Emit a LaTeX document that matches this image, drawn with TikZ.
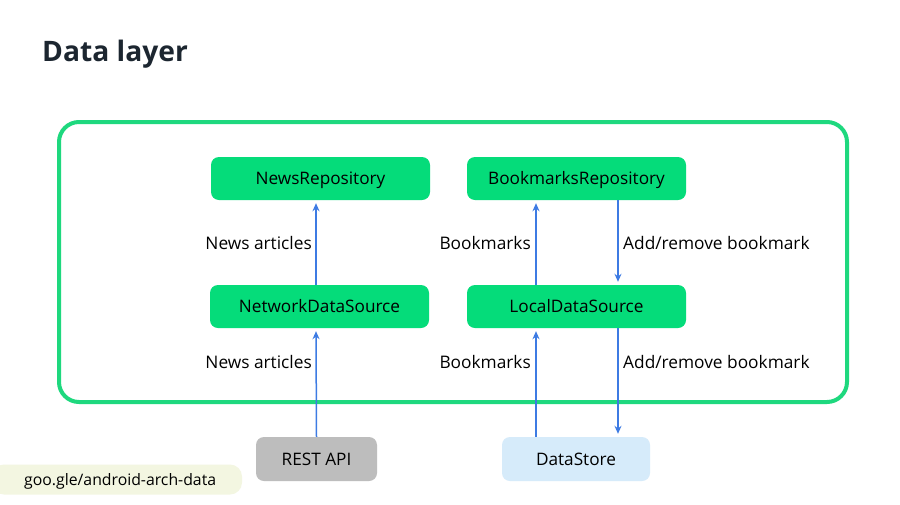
\documentclass[tikz,border=0pt]{standalone}
\usepackage{fontspec}
\setmainfont{Open Sans}
\usetikzlibrary{arrows.meta}
\definecolor{layergreen}{HTML}{1ED87E}
\definecolor{boxgreen}{HTML}{05DC7A}
\definecolor{apigray}{HTML}{BDBDBD}
\definecolor{storeblue}{HTML}{D6EBFA}
\definecolor{linkblue}{HTML}{3D7BE3}
\definecolor{notepale}{HTML}{F3F6E1}
\definecolor{titleink}{HTML}{1C2630}

\begin{document}
\begin{tikzpicture}[x=1pt, y=-1pt,
	box/.style={rounded corners=8pt, minimum width=219pt, minimum height=43pt, inner sep=0pt, text height=12.2pt, text depth=0pt, font=\fontsize{17.2}{19}\selectfont},
	flow/.style={linkblue, line width=1.5pt, -{Stealth[length=8pt,width=7pt]}},
	lbl/.style={font=\fontsize{17.3}{19}\selectfont, inner sep=0pt, text height=12.2pt, text depth=0pt}]
	\useasboundingbox[fill=white] (0,0) rectangle (900,504);
	% title and frame
	\node[anchor=base west, inner sep=0pt, text=titleink, font=\fontsize{28.2}{31}\selectfont\bfseries] (title) at (42,61) {Data layer};
	\draw[layergreen, line width=4pt, rounded corners=20pt] (59,122) rectangle (847,402);
	% boxes
	\node[box, fill=boxgreen] (newsrepo) at (320.5,178.5) {NewsRepository};
	\node[box, fill=boxgreen] (bookrepo) at (576.5,178.5) {BookmarksRepository};
	\node[box, fill=boxgreen] (network) at (319.5,306.5) {NetworkDataSource};
	\node[box, fill=boxgreen] (local) at (576.5,306.5) {LocalDataSource};
	\node[box, fill=apigray, minimum width=121pt, minimum height=44pt] (rest) at (316.5,459) {REST API};
	\node[box, fill=storeblue, minimum width=148pt, minimum height=44pt] (store) at (576,459) {DataStore};
	\node[fill=notepale, rounded corners=12pt, minimum width=250pt, minimum height=30pt, inner sep=0pt] (link) at (117,479.5) {};
	\node[anchor=west, lbl, font=\fontsize{15.8}{18}\selectfont, text height=11.2pt] at (24,479.5) {goo.gle/android-arch-data};
	% arrows
	\draw[flow] ([xshift=-3.5pt]network.north) -- ([xshift=-4.5pt,yshift=-3pt]newsrepo.south);
	\draw[flow] (rest.north) -- ([xshift=-3.5pt,yshift=-3pt]network.south);
	\draw[flow] ([xshift=-40.5pt]local.north) -- ([xshift=-40.5pt,yshift=-3pt]bookrepo.south);
	\draw[flow] ([xshift=41.5pt]bookrepo.south) -- ([xshift=41.5pt,yshift=3pt]local.north);
	\draw[flow] ([xshift=-40pt]store.north) -- ([xshift=-40.5pt,yshift=-3pt]local.south);
	\draw[flow] ([xshift=41.5pt]local.south) -- ([xshift=42pt,yshift=3pt]store.north);
	% labels
	\node[lbl, anchor=east] (news1) at (312,243) {News articles};
	\node[lbl, anchor=east] (book1) at (531,243) {Bookmarks};
	\node[lbl, anchor=west] (add1) at (623,243) {Add/remove bookmark};
	\node[lbl, anchor=east] (news2) at (312,362) {News articles};
	\node[lbl, anchor=east] (book2) at (531,362) {Bookmarks};
	\node[lbl, anchor=west] (add2) at (623,362) {Add/remove bookmark};
\end{tikzpicture}
\end{document}
